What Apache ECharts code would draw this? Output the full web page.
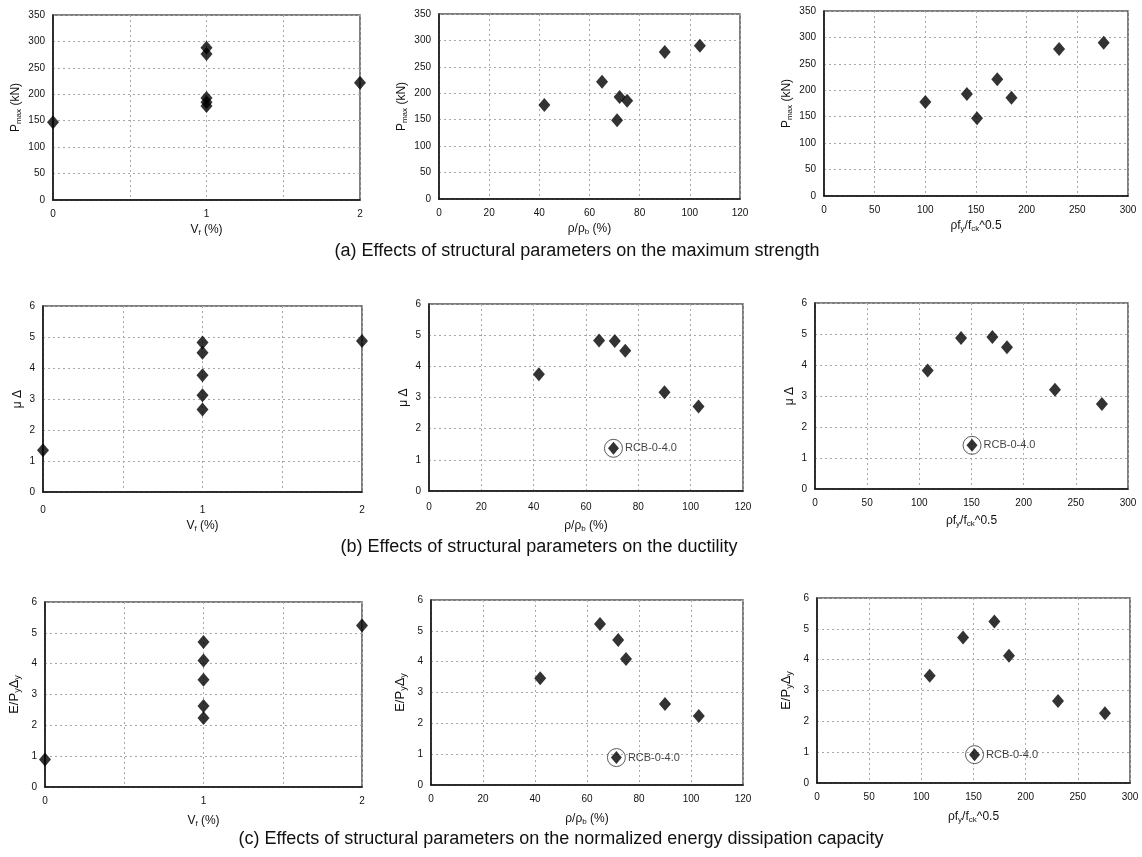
<!DOCTYPE html>
<html>
<head>
<meta charset="utf-8">
<script src="https://cdn.jsdelivr.net/npm/echarts@6/dist/echarts.min.js"></script>
<style>html,body{margin:0;padding:0;background:#fff;}#c{width:1142px;height:857px;}</style>
</head>
<body>
<div id="c"></div>
<script>
// ---- data ----
const vfX = [0, 1, 1, 1, 1, 1, 2];
const pmaxVf = [147, 288, 276, 193, 185, 178, 222];
const rhoX_a = [42, 65, 71, 72, 75, 90, 104];
const pmaxRho = [178, 222, 149, 193, 186, 278, 290];
const rfX_a = [100, 141, 151, 171, 185, 232, 276];
const pmaxRf = [178, 193, 147, 221, 186, 278, 290];

const muVf = [1.35, 4.82, 4.49, 3.77, 3.12, 2.66, 4.87];
const rhoX_b = [42, 65, 71, 75, 90, 103];
const muRho = [3.75, 4.83, 4.81, 4.5, 3.17, 2.71];
const rcbMuRho = [70.5, 1.37];
const rfX_b = [108, 140, 170, 184, 230, 275];
const muRf = [3.82, 4.87, 4.9, 4.57, 3.2, 2.74];
const rcbMuRf = [150.5, 1.41];

const eVf = [0.89, 4.70, 4.10, 3.48, 2.63, 2.24, 5.24];
const rhoX_c = [42, 65, 72, 75, 90, 103];
const eRho = [3.46, 5.22, 4.70, 4.09, 2.63, 2.24];
const rcbERho = [71.3, 0.89];
const rfX_c = [108, 140, 170, 184, 231, 276];
const eRf = [3.48, 4.72, 5.24, 4.13, 2.66, 2.26];
const rcbERf = [151, 0.92];

const rcbLabel = 'RCB-0-4.0';
const captions = [
  '(a) Effects of structural parameters on the maximum strength',
  '(b) Effects of structural parameters on the ductility',
  '(c) Effects of structural parameters on the normalized energy dissipation capacity'
];

// ---- layout ----
const FONT = 'Liberation Sans, Arial, sans-serif';
const grids = [
  {left: 53, top: 15, width: 307, height: 185},
  {left: 439, top: 14, width: 301, height: 185},
  {left: 824, top: 11, width: 304, height: 185},
  {left: 43, top: 306, width: 319, height: 186},
  {left: 429, top: 304, width: 314, height: 187},
  {left: 815, top: 303, width: 313, height: 186},
  {left: 45, top: 602, width: 317, height: 185},
  {left: 431, top: 600, width: 312, height: 185},
  {left: 817, top: 598, width: 313, height: 185}
];
// per-panel x label margin / x name gap
const xLay = [
  {margin: 9, gap: 23}, {margin: 9, gap: 23}, {margin: 9, gap: 23},
  {margin: 13, gap: 27}, {margin: 11, gap: 28}, {margin: 9, gap: 25},
  {margin: 9, gap: 27}, {margin: 9, gap: 27}, {margin: 9, gap: 27}
];

const rich = {
  n: {fontSize: 12, fontFamily: FONT, color: '#111', lineHeight: 14},
  m: {fontSize: 13, fontFamily: FONT, color: '#111', lineHeight: 15},
  s: {fontSize: 8, fontFamily: FONT, color: '#111', lineHeight: 6, verticalAlign: 'bottom'},
  k: {fontSize: 9, fontFamily: FONT, color: '#111', lineHeight: 6, verticalAlign: 'bottom'}
};
const names = {
  vf: '{n|V}{s|f}{n| (%)}',
  rho: '{n|ρ/ρ}{s|b}{n| (%)}',
  rf: '{n|ρf}{s|y}{n|/f}{s|ck}{n|^0.5}',
  pmax: '{n|P}{s|max}{n| (kN)}',
  mu: '{n|μ Δ}',
  e: '{m|E/P}{k|y}{m|Δ}{k|y}'
};

const xDefs = {
  vf: {min: 0, max: 2, interval: 0.5, name: names.vf, fmt: v => (Math.abs(v - Math.round(v)) < 1e-9 ? String(Math.round(v)) : '')},
  rho: {min: 0, max: 120, interval: 20, name: names.rho, fmt: v => String(v)},
  rf: {min: 0, max: 300, interval: 50, name: names.rf, fmt: v => String(v)}
};
const yDefs = {
  pmax: {min: 0, max: 350, interval: 50, name: names.pmax, gap: 30},
  mu: {min: 0, max: 6, interval: 1, name: names.mu, gap: 18},
  e: {min: 0, max: 6, interval: 1, name: names.e, gap: 23}
};

const panels = [
  {x: 'vf', y: 'pmax', xs: vfX, ys: pmaxVf},
  {x: 'rho', y: 'pmax', xs: rhoX_a, ys: pmaxRho},
  {x: 'rf', y: 'pmax', xs: rfX_a, ys: pmaxRf},
  {x: 'vf', y: 'mu', xs: vfX, ys: muVf},
  {x: 'rho', y: 'mu', xs: rhoX_b, ys: muRho, rcb: rcbMuRho},
  {x: 'rf', y: 'mu', xs: rfX_b, ys: muRf, rcb: rcbMuRf},
  {x: 'vf', y: 'e', xs: vfX, ys: eVf},
  {x: 'rho', y: 'e', xs: rhoX_c, ys: eRho, rcb: rcbERho},
  {x: 'rf', y: 'e', xs: rfX_c, ys: eRf, rcb: rcbERf}
];

const gridLine = {show: true, lineStyle: {color: '#a8a8a8', width: 1, type: [2, 3]}};

const option = {
  animation: false,
  backgroundColor: '#fff',
  grid: grids.map(g => Object.assign({show: true, borderColor: '#555', borderWidth: 1.5, backgroundColor: 'transparent'}, g)),
  xAxis: [], yAxis: [], series: [],
  graphic: []
};

panels.forEach((p, i) => {
  const xd = xDefs[p.x], yd = yDefs[p.y], rx = xLay[i];
  option.xAxis.push({
    type: 'value', gridIndex: i, min: xd.min, max: xd.max, interval: xd.interval,
    name: xd.name, nameLocation: 'middle', nameGap: rx.gap,
    nameTextStyle: {rich: rich},
    axisLine: {show: true, onZero: false, lineStyle: {color: '#111', width: 1.5}},
    axisTick: {show: false},
    axisLabel: {margin: rx.margin, fontSize: 10, fontFamily: FONT, color: '#111', formatter: xd.fmt, showMinLabel: true, showMaxLabel: true},
    splitLine: gridLine
  });
  option.yAxis.push({
    type: 'value', gridIndex: i, min: yd.min, max: yd.max, interval: yd.interval,
    name: yd.name, nameLocation: 'middle', nameGap: yd.gap, nameRotate: 90,
    nameTextStyle: {rich: rich},
    axisLine: {show: true, onZero: false, lineStyle: {color: '#111', width: 1.5}},
    axisTick: {show: false},
    axisLabel: {margin: 8, fontSize: 10, fontFamily: FONT, color: '#111'},
    splitLine: gridLine
  });
  option.series.push({
    type: 'scatter', xAxisIndex: i, yAxisIndex: i,
    symbol: 'diamond', symbolSize: [12, 14],
    itemStyle: {color: '#000'},
    data: p.xs.map((x, k) => [x, p.ys[k]]),
    z: 5
  });
  if (p.rcb) {
    option.series.push({
      type: 'scatter', xAxisIndex: i, yAxisIndex: i,
      symbol: 'circle', symbolSize: 18,
      itemStyle: {color: 'rgba(0,0,0,0)', borderColor: '#333', borderWidth: 1},
      label: {show: true, position: 'right', distance: 2, formatter: rcbLabel, fontSize: 11, fontFamily: FONT, color: '#111'},
      data: [p.rcb], z: 4
    });
    option.series.push({
      type: 'scatter', xAxisIndex: i, yAxisIndex: i,
      symbol: 'diamond', symbolSize: [11, 13],
      itemStyle: {color: '#000'},
      data: [p.rcb], z: 6
    });
  }
});

const capPos = [[577, 251], [539, 547], [561, 839]];
captions.forEach((t, i) => {
  option.graphic.push({
    type: 'text', x: capPos[i][0], y: capPos[i][1],
    style: {text: t, fontSize: 18, fontFamily: FONT, fill: '#111', align: 'center', verticalAlign: 'middle'}
  });
});

const chart = echarts.init(document.getElementById('c'), null, {renderer: 'canvas'});
chart.setOption(option);
</script>
</body>
</html>
